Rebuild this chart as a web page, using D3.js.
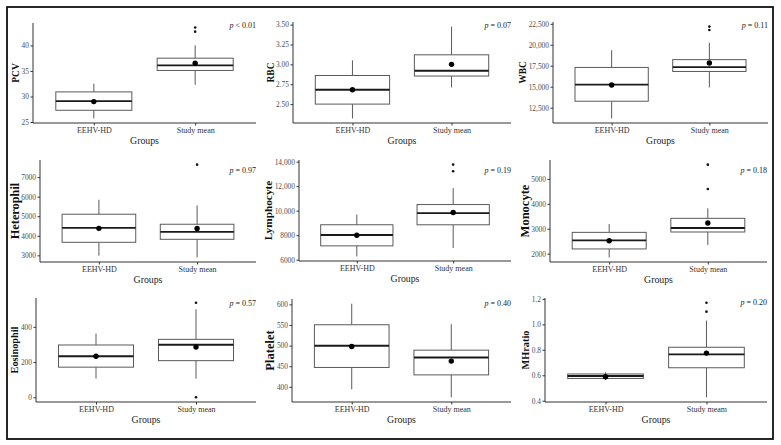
<!DOCTYPE html>
<html><head><meta charset="utf-8">
<script src="https://cdn.jsdelivr.net/npm/d3@7"></script>
<style>
body{margin:0;background:#fff}
text{font-family:"Liberation Serif","Times New Roman",serif}
</style>
</head><body>
<svg id="c" width="781" height="445"></svg>
<script>
// ---------- DATA ----------
const measures = ["PCV","RBC","WBC","Heterophil","Lymphocyte","Monocyte","Eosinophil","Platelet","MHratio"];
const categories = [
  ["EEHV-HD","Study mean"],["EEHV-HD","Study mean"],["EEHV-HD","Study mean"],
  ["EEHV-HD","Study mean"],["EEHV-HD","Study mean"],["EEHV-HD","Study mean"],
  ["EEHV-HD","Study mean"],["EEHV-HD","Study mean"],["EEHV-HD","Study meam"]
];
// [whiskerLow, q1, median, q3, whiskerHigh]
const boxEEHV = [
  [25.7, 27.3, 29.1, 30.9, 32.5],
  [2.32, 2.50, 2.68, 2.86, 3.05],
  [11220, 13270, 15245, 17300, 19350],
  [2985, 3667, 4405, 5103, 5842],
  [6270, 7130, 8020, 8852, 9690],
  [1851, 2189, 2534, 2855, 3193],
  [106, 171, 233, 297, 362],
  [394, 447, 499.5, 550.6, 601.7],
  [0.562, 0.575, 0.594, 0.610, 0.624]
];
const boxStudy = [
  [32.3, 35.1, 36.1, 37.5, 40.0],
  [2.71, 2.853, 2.92, 3.12, 3.475],
  [14920, 16820, 17340, 18230, 20240],
  [2897, 3820, 4200, 4590, 5550],
  [6950, 8850, 9800, 10500, 11840],
  [2350, 2870, 3030, 3418, 3820],
  [106, 208, 298, 329, 500],
  [374.6, 429, 471, 489, 552],
  [0.427, 0.659, 0.764, 0.82, 1.03]
];
const meanEEHV  = [29.0, 2.68, 15200, 4380, 8000, 2520, 233, 498, 0.588];
const meanStudy = [36.5, 3.0, 17820, 4370, 9850, 3233, 285, 462.5, 0.774];
const outliersEEHV  = [[],[],[],[],[],[],[],[],[]];
const outliersStudy = [[43.5, 42.7],[],[21770, 22170],[7637],[13220, 13760],[4598, 5574],[0, 537],[],[1.10, 1.17]];
const pSigns  = ["<","=","=","=","=","=","=","=","="];
const pValues = ["0.01","0.07","0.11","0.97","0.19","0.18","0.57","0.40","0.20"];
const yTickValues = [
  [25,30,35,40],
  [2.5,2.75,3.0,3.25,3.5],
  [12500,15000,17500,20000,22500],
  [3000,4000,5000,6000,7000],
  [6000,8000,10000,12000,14000],
  [2000,3000,4000,5000],
  [0,200,400],
  [400,450,500,550,600],
  [0.4,0.6,0.8,1.0,1.2]
];
const yTickLabels = [
  ["25","30","35","40"],
  ["2.50","2.75","3.00","3.25","3.50"],
  ["12,500","15,000","17,500","20,000","22,500"],
  ["3000","4000","5000","6000","7000"],
  ["6000","8000","10,000","12,000","14,000"],
  ["2000","3000","4000","5000"],
  ["0","200","400"],
  ["400","450","500","550","600"],
  ["0.4","0.6","0.8","1.0","1.2"]
];
const xTitle = "Groups";

// ---------- LAYOUT (plot areas, px; title font sizes) ----------
const layout = [
  {x0:33,  x1:256, y0:23,  y1:123, pdy:2,  ts:9.5},
  {x0:293, x1:511, y0:22,  y1:123, pdy:3,  ts:9.5},
  {x0:553, x1:768, y0:22,  y1:123, pdy:3,  ts:9.5},
  {x0:40,  x1:256, y0:160, y1:262, pdy:10, ts:12.3},
  {x0:299, x1:511, y0:160, y1:261, pdy:10, ts:11.3},
  {x0:550, x1:767, y0:160, y1:262, pdy:10, ts:12.5},
  {x0:36,  x1:256, y0:298, y1:402, pdy:5,  ts:10.3},
  {x0:292, x1:511, y0:299, y1:402, pdy:4,  ts:12.5},
  {x0:545, x1:767, y0:298, y1:402, pdy:4,  ts:10.3}
];

const svg = d3.select("#c");
svg.append("rect").attr("x",7).attr("y",7).attr("width",766).attr("height",432)
  .attr("fill","none").attr("stroke","#111").attr("stroke-width",1.8);

const boxCol = "#5a5a5a";

measures.forEach((m, i) => {
  const L = layout[i];
  const g = svg.append("g");
  const allVals = [...boxEEHV[i], ...boxStudy[i], ...outliersEEHV[i], ...outliersStudy[i]];
  const lo = d3.min(allVals), hi = d3.max(allVals), pad = (hi - lo) * 0.05;
  const y = d3.scaleLinear().domain([lo - pad, hi + pad]).range([L.y1, L.y0]);
  const x = d3.scalePoint().domain(categories[i]).range([L.x0, L.x1]).padding(0.6);
  const bw = x.step() * 0.75;

  const groups = [
    {cat: categories[i][0], s: boxEEHV[i], mean: meanEEHV[i], out: outliersEEHV[i]},
    {cat: categories[i][1], s: boxStudy[i], mean: meanStudy[i], out: outliersStudy[i]}
  ];

  groups.forEach(d => {
    const cx = x(d.cat);
    g.append("line").attr("x1",cx).attr("x2",cx).attr("y1",y(d.s[0])).attr("y2",y(d.s[1]))
      .attr("stroke",boxCol).attr("stroke-width",1);
    g.append("line").attr("x1",cx).attr("x2",cx).attr("y1",y(d.s[3])).attr("y2",y(d.s[4]))
      .attr("stroke",boxCol).attr("stroke-width",1);
    g.append("rect").attr("x",cx - bw/2).attr("width",bw)
      .attr("y",y(d.s[3])).attr("height",y(d.s[1]) - y(d.s[3]))
      .attr("fill","#fff").attr("stroke",boxCol).attr("stroke-width",1);
    g.append("line").attr("x1",cx - bw/2).attr("x2",cx + bw/2).attr("y1",y(d.s[2])).attr("y2",y(d.s[2]))
      .attr("stroke","#1a1a1a").attr("stroke-width",1.9);
    g.selectAll(null).data(d.out).enter().append("circle")
      .attr("cx",cx).attr("cy",v => y(v)).attr("r",1.3).attr("fill","#111");
    g.append("circle").attr("cx",cx).attr("cy",y(d.mean)).attr("r",2.7).attr("fill","#000");
  });

  // axes
  const ya = g.append("g").attr("transform",`translate(${L.x0},0)`)
    .call(d3.axisLeft(y).tickValues(yTickValues[i]).tickFormat((v,k)=>yTickLabels[i][k]).tickSize(2.5).tickPadding(1.5));
  ya.select(".domain").attr("d",`M0,${L.y0}V${L.y1}`).attr("stroke","#333");
  ya.selectAll(".tick line").attr("stroke","#333");
  ya.selectAll(".tick text").attr("font-size",7.4).attr("fill","#4d4d4d")
    .attr("font-family","'Liberation Serif',serif");

  const xa = g.append("g").attr("transform",`translate(0,${L.y1})`)
    .call(d3.axisBottom(x).tickSize(2.5).tickPadding(2));
  xa.select(".domain").attr("d",`M${L.x0},0H${L.x1}`).attr("stroke","#333");
  xa.selectAll(".tick line").attr("stroke","#333");
  xa.selectAll(".tick text").attr("font-size",8).attr("fill","#333")
    .attr("font-family","'Liberation Serif',serif");

  // titles
  g.append("text").attr("x",(L.x0 + L.x1)/2).attr("y",L.y1 + 21)
    .attr("text-anchor","middle").attr("font-size",9.8).attr("fill","#222").text(xTitle);
  let minX = 0;
  ya.selectAll(".tick text").each(function(){ const b = this.getBBox(); const t = this.parentNode.transform.baseVal.consolidate(); const ox = t ? t.matrix.e : 0; minX = Math.min(minX, ox + b.x); });
  g.append("text").attr("transform",`translate(${L.x0 + minX - 2.5},${(L.y0 + L.y1)/2}) rotate(-90)`)
    .attr("text-anchor","middle").attr("font-size",L.ts).attr("font-weight","bold").attr("fill","#111")
    .text(m);

  // p-value
  const pt = g.append("text").attr("x",L.x1).attr("y",L.y0 + L.pdy + 3)
    .attr("text-anchor","end").attr("font-size",8).attr("fill","#222");
  pt.append("tspan").attr("font-style","italic").text("p");
  pt.append("tspan").text(` ${pSigns[i]} ${pValues[i]}`);
});
</script>
</body></html>
